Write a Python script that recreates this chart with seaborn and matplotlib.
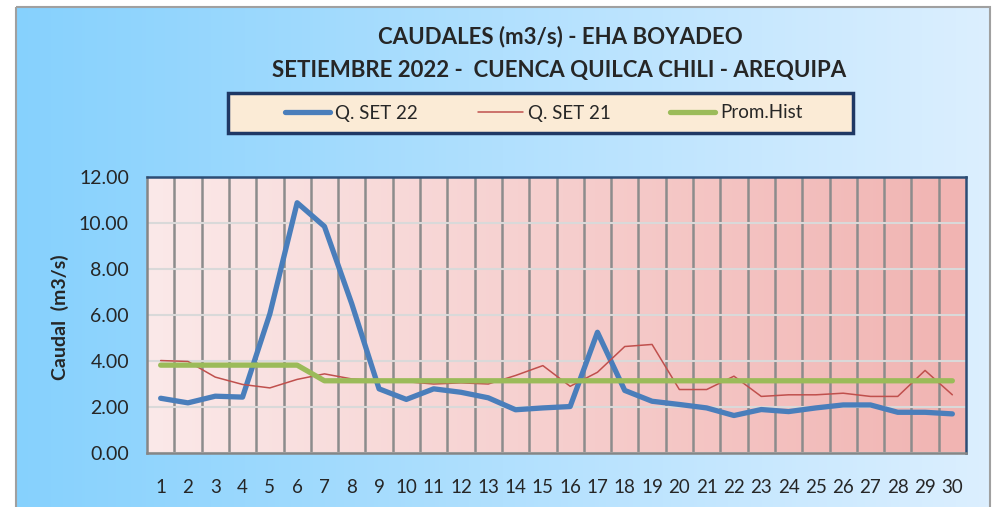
import numpy as np
import pandas as pd
import matplotlib.pyplot as plt
import seaborn as sns
from matplotlib.colors import LinearSegmentedColormap
from matplotlib.patches import Rectangle

# datos
dias = list(range(1, 31))
q_set22 = [2.38, 2.18, 2.47, 2.43, 6.05, 10.88, 9.85, 6.49, 2.79, 2.33,
           2.79, 2.64, 2.40, 1.88, 1.96, 2.02, 5.25, 2.72, 2.25, 2.11,
           1.96, 1.63, 1.89, 1.80, 1.96, 2.09, 2.09, 1.77, 1.77, 1.70]
q_set21 = [4.02, 3.98, 3.30, 2.98, 2.83, 3.20, 3.44, 3.22, 3.15, 3.10,
           3.00, 3.05, 3.00, 3.37, 3.80, 2.90, 3.51, 4.63, 4.72, 2.76,
           2.76, 3.34, 2.46, 2.53, 2.53, 2.60, 2.46, 2.46, 3.59, 2.53]
prom_hist = [3.82, 3.82, 3.82, 3.82, 3.82, 3.82, 3.14, 3.14, 3.14, 3.14,
             3.14, 3.14, 3.14, 3.14, 3.14, 3.14, 3.14, 3.14, 3.14, 3.14,
             3.14, 3.14, 3.14, 3.14, 3.14, 3.14, 3.14, 3.14, 3.14, 3.14]
series = ["Q. SET 22", "Q. SET 21", "Prom.Hist"]
colores = ["#4A7EBB", "#C0504D", "#9BBB59"]
grosores = [3.8, 1.1, 3.8]
y_ticks = [0, 2, 4, 6, 8, 10, 12]

df = pd.DataFrame({
    "Dia": dias * 3,
    "Caudal": q_set22 + q_set21 + prom_hist,
    "Serie": [s for s in series for _ in dias],
})

sns.set_style("white")
plt.rcParams["font.family"] = ["Lato", "DejaVu Sans"]

W, H = 998, 507
fig = plt.figure(figsize=(W / 100, H / 100), dpi=100)
fig.patch.set_facecolor("white")

# fondo del grafico (degradado azul)
bg = fig.add_axes([0, 0, 1, 1], zorder=-2)
bg.axis("off")
cmap_bg = LinearSegmentedColormap.from_list("bg", ["#86D1FD", "#DCEFFF"])
bg.imshow(np.linspace(0, 1, 256)[None, :], cmap=cmap_bg, aspect="auto",
          extent=[17, 990, H, 8])
bg.add_patch(Rectangle((16, 7), 974, H, fill=False, edgecolor="#A0A0A0", lw=1.5))
# marco de la leyenda
bg.add_patch(Rectangle((228, 93), 625, 40, facecolor="#FBEBD6",
                       edgecolor="#1F3864", lw=2.5))
bg.set_xlim(0, W)
bg.set_ylim(H, 0)

# area de trazado
x0, x1, y0, y1 = 147, 966, 177, 453
pos = [x0 / W, 1 - y1 / H, (x1 - x0) / W, (y1 - y0) / H]
pa = fig.add_axes(pos, zorder=-1)
cmap_pa = LinearSegmentedColormap.from_list("pa", ["#FBE9E9", "#F1B4B2"])
pa.imshow(np.linspace(0, 1, 256)[None, :], cmap=cmap_pa, aspect="auto",
          extent=[0, 1, 0, 1])
pa.axis("off")

ax = fig.add_axes(pos, zorder=1)
ax.patch.set_alpha(0)

for s, c, lw in zip(series, colores, grosores):
    sns.lineplot(data=df[df["Serie"] == s], x="Dia", y="Caudal", color=c,
                 linewidth=lw, label=s, ax=ax, legend=False,
                 solid_capstyle="round", solid_joinstyle="round")

ax.set_xlim(0.5, 30.5)
ax.set_ylim(0, 12)
ax.set_yticks(y_ticks)
ax.set_yticklabels([f"{v:.2f}" for v in y_ticks])
ax.set_xticks(dias)
ax.set_xticklabels([str(d) for d in dias])
ax.set_xticks(np.arange(1.5, 30, 1), minor=True)

ax.grid(axis="y", which="major", color="#D9D9D9", lw=1.5)
ax.grid(axis="x", which="minor", color="#8C8C8C", lw=1.8)
ax.set_axisbelow(True)

ax.tick_params(axis="y", which="major", direction="out", length=7,
               color="#868686", labelsize=14, pad=6)
ax.tick_params(axis="x", which="major", direction="in", length=5,
               color="#868686", labelsize=13.5, pad=19)
ax.tick_params(axis="x", which="minor", direction="out", length=5,
               color="#868686")
for side in ["left", "bottom"]:
    ax.spines[side].set_color("#868686")
    ax.spines[side].set_linewidth(1.8)
for side in ["top", "right"]:
    ax.spines[side].set_color("#2C4D75")
    ax.spines[side].set_linewidth(1.8)
ax.set_xlabel("")
ax.set_ylabel("")

fig.text(60 / W, 1 - 317 / H, "Caudal  (m3/s)", rotation=90, ha="center",
         va="center", fontsize=14, fontweight="bold")

fig.text(560 / W, 1 - 37 / H, "CAUDALES (m3/s) - EHA BOYADEO", ha="center",
         va="center", fontsize=16, fontweight="bold")
fig.text(559 / W, 1 - 70 / H, "SETIEMBRE 2022 -  CUENCA QUILCA CHILI - AREQUIPA",
         ha="center", va="center", fontsize=16, fontweight="bold")

handles, labels = ax.get_legend_handles_labels()
leg = fig.legend(handles, labels, ncol=3, loc="center",
                 bbox_to_anchor=(544 / W, 1 - 113 / H), fontsize=13.5,
                 handlelength=2.4, handletextpad=0.25, columnspacing=3.2,
                 frameon=False)

fig.savefig("out.png", dpi=100)
